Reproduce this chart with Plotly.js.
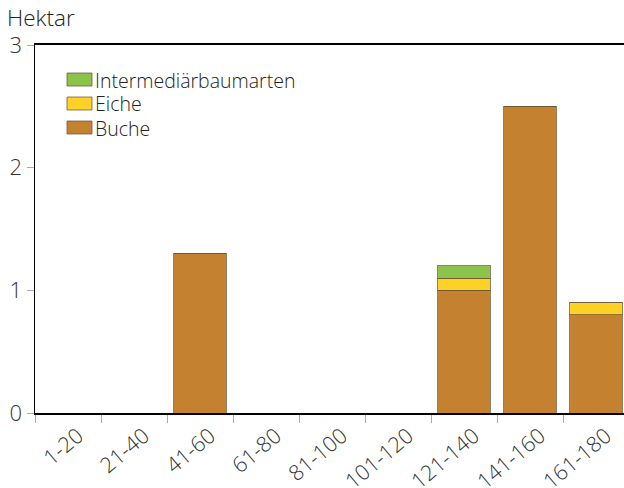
<!DOCTYPE html>
<html><head><meta charset="utf-8">
<script src="https://cdn.plot.ly/plotly-3.0.1.min.js"></script>
<style>html,body{margin:0;padding:0;background:#fff}</style>
</head><body><div id="chart" style="width:624px;height:488px"></div>
<script>
const categories = ["1-20","21-40","41-60","61-80","81-100","101-120","121-140","141-160","161-180"];
const buche = [0,0,1.3,0,0,0,1.0,2.5,0.8];
const eiche = [0,0,0,0,0,0,0.1,0,0.1];
const intermediaer = [0,0,0,0,0,0,0.1,0,0];
const seriesNames = ["Buche","Eiche","Intermediärbaumarten"];
const seriesColors = ["#C4812F","#FDD126","#8CC34B"];
const yTicks = [0,1,2,3];

const W=624,H=488,L=35,R=0,T=45,B=75;
const pw=W-L-R, ph=H-T-B;
const px=x=>(x-L)/pw, py=y=>(H-B-y)/ph;
const lineCol="rgba(110,85,50,0.75)";
const FAM="Open Sans";

const data=[buche,eiche,intermediaer].map((v,i)=>({
  type:"bar",x:categories,y:v,name:seriesNames[i],
  marker:{color:seriesColors[i],line:{color:lineCol,width:1}},
  hoverinfo:"skip",showlegend:false
}));

const shapes=[],annotations=[];
[[2,73],[1,97],[0,121]].forEach(([i,top])=>{
  shapes.push({type:"rect",xref:"paper",yref:"paper",x0:px(67),x1:px(92),y0:py(top+13),y1:py(top),
    fillcolor:seriesColors[i],line:{color:lineCol,width:1}});
  annotations.push({xref:"paper",yref:"paper",x:px(93),y:py(top+6.5),xanchor:"left",yanchor:"middle",
    height:20,valign:"middle",
    text:seriesNames[i],showarrow:false,font:{size:19.5,color:"#222",family:FAM,weight:300}});
});
annotations.push({xref:"paper",yref:"paper",x:px(5),y:py(17),xanchor:"left",yanchor:"middle",
  height:22,valign:"middle",
  text:"Hektar",showarrow:false,font:{size:22.5,color:"#222",family:FAM,weight:300}});

const layout={
  width:W,height:H,margin:{l:L,r:R,t:T,b:B},
  paper_bgcolor:"#fff",plot_bgcolor:"#fff",
  barmode:"stack",bargap:0.2,
  font:{family:FAM,color:"#333"},
  xaxis:{type:"category",range:[-0.5,-0.5+pw/66],showline:true,linecolor:"#000",linewidth:2,mirror:true,
    ticks:"outside",tickson:"boundaries",ticklen:8,tickcolor:"#aaa",tickwidth:1,
    tickangle:-40,ticklabelshift:10,
    tickfont:{size:21.5,color:"#333",family:FAM,weight:300},showgrid:false,zeroline:false,fixedrange:true},
  yaxis:{range:[0,3],tickvals:yTicks,showline:true,linecolor:"#000",linewidth:1.5,
    ticks:"outside",ticklen:7,tickcolor:"#aaa",tickwidth:1,
    tickfont:{size:22,color:"#333",family:FAM,weight:300},showgrid:false,zeroline:false,fixedrange:true},
  shapes:shapes,annotations:annotations
};
Plotly.newPlot("chart",data,layout,{displayModeBar:false,staticPlot:true});
</script></body></html>
